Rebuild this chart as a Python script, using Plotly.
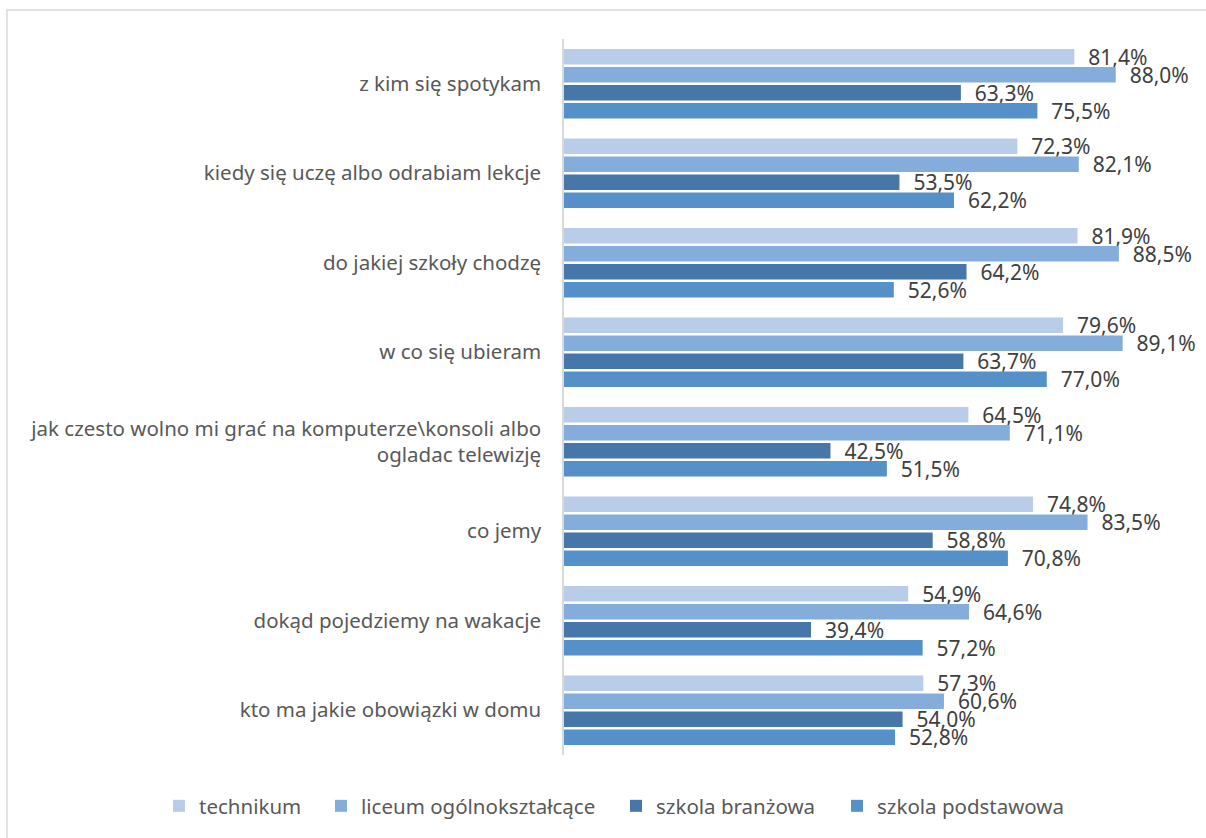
import plotly.graph_objects as go

categories = [
    "z kim się spotykam",
    "kiedy się uczę albo odrabiam lekcje",
    "do jakiej szkoły chodzę",
    "w co się ubieram",
    "jak czesto wolno mi grać na komputerze\\konsoli albo<br>ogladac telewizję",
    "co jemy",
    "dokąd pojedziemy na wakacje",
    "kto ma jakie obowiązki w domu",
]
series_names = ["technikum", "liceum ogólnokształcące", "szkola branżowa", "szkola podstawowa"]
technikum = [81.4, 72.3, 81.9, 79.6, 64.5, 74.8, 54.9, 57.3]
liceum = [88.0, 82.1, 88.5, 89.1, 71.1, 83.5, 64.6, 60.6]
branzowa = [63.3, 53.5, 64.2, 63.7, 42.5, 58.8, 39.4, 54.0]
podstawowa = [75.5, 62.2, 52.6, 77.0, 51.5, 70.8, 57.2, 52.8]
colors = ["#B9CDE8", "#84ADDB", "#4677A8", "#5591C8"]

W, H = 1206, 838
L, R, T, B = 564, 15, 39, 83
PW, PH = W - L - R, H - T - B

def px_x(p):
    return (p - L) / PW

def px_y(p):
    return (H - B - p) / PH

legend_ids = ["legend", "legend2", "legend3", "legend4"]
legend_text_start = [194, 356, 651, 872]

fig = go.Figure()
for name, vals, col, lid in zip(series_names, [technikum, liceum, branzowa, podstawowa], colors, legend_ids):
    fig.add_trace(go.Bar(
        y=categories, x=vals, name=name, orientation="h",
        marker=dict(color=col, line=dict(width=0)),
        text=["\u00a0\u00a0" + f"{v:.1f}%".replace(".", ",") for v in vals],
        textposition="outside", cliponaxis=False, constraintext="none",
        textfont=dict(size=21, color="#404040", family="Noto Sans"),
        legend=lid,
    ))

layout_legends = {}
for lid, ts in zip(legend_ids, legend_text_start):
    layout_legends[lid] = dict(
        orientation="h", x=px_x(ts - 35), xanchor="left",
        y=px_y(806), yanchor="middle",
        font=dict(size=20.5, color="#595959", family="Noto Sans"),
        bgcolor="rgba(0,0,0,0)",
    )

fig.update_layout(
    width=W, height=H,
    margin=dict(l=L, r=R, t=T, b=B),
    paper_bgcolor="white", plot_bgcolor="white",
    barmode="group", bargap=0.195, bargroupgap=0.14,
    font=dict(family="Noto Sans", color="#595959", size=20.5),
    showlegend=True,
    **layout_legends,
)
fig.update_xaxes(range=[0, 100], showgrid=False, showticklabels=False, zeroline=False,
                 showline=False, ticks="")
fig.update_yaxes(autorange="reversed", showgrid=False, showline=True, linecolor="#D9D9D9",
                 linewidth=1.5, ticks="", ticklabelstandoff=17,
                 tickfont=dict(size=20.5, color="#595959", family="Noto Sans"))

fig.add_shape(type="rect", xref="paper", yref="paper",
              x0=px_x(7), x1=px_x(1220),
              y0=px_y(850), y1=px_y(10),
              line=dict(color="#D9D9D9", width=1.5), layer="below")

fig.write_html("out.html", config={"displayModeBar": False},
               post_script="document.body.style.margin='0';")
